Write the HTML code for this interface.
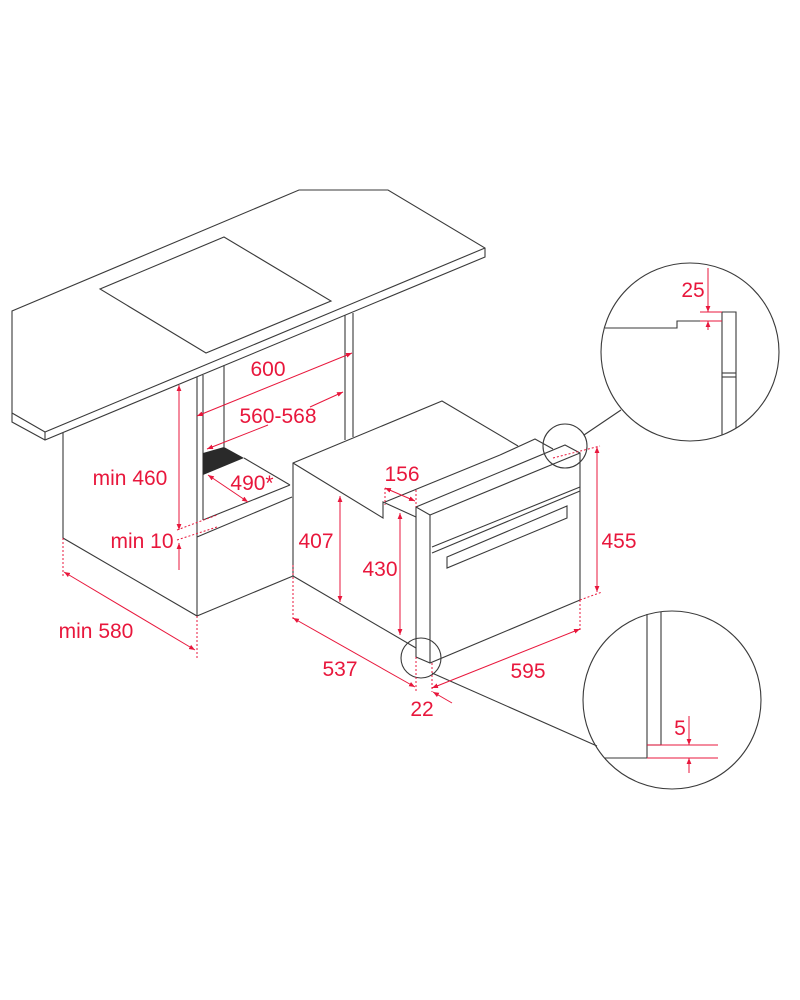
<!DOCTYPE html>
<html><head><meta charset="utf-8"><style>
html,body{margin:0;padding:0;background:#fff;}
svg{display:block;}
text{font-family:"Liberation Sans",sans-serif;font-size:21px;fill:#e8173c;text-anchor:middle;}
.k{stroke:#3a3a3a;stroke-width:1.1;fill:none;}
.r{stroke:#e8173c;stroke-width:1;fill:none;}
.d{stroke:#e8173c;stroke-width:1;fill:none;stroke-dasharray:2,2;}
</style></head><body>
<svg width="800" height="1000" viewBox="0 0 800 1000" xmlns="http://www.w3.org/2000/svg">
<defs>
<marker id="a" viewBox="0 0 10 10" refX="10" refY="5" markerWidth="6" markerHeight="6" orient="auto-start-reverse"><path d="M0,1 L10,5 L0,9 z" fill="#e8173c"/></marker>
</defs>
<polyline class="k" points="12,413 12,311 299,190 388,190 485,248 485,257 45,440 12,422 12,413 45,432 485,248"/>
<line class="k" x1="45" y1="432" x2="45" y2="440"/>
<polygon class="k" points="100,289 224,237 331,301 206,353"/>
<polyline class="k" points="63,433 63,538 197,616 197,377"/>
<line class="k" x1="203" y1="375" x2="203" y2="520"/>
<line class="k" x1="224" y1="365" x2="224" y2="447"/>
<line class="k" x1="345" y1="315" x2="345" y2="440"/>
<line class="k" x1="353" y1="313" x2="353" y2="437"/>
<line class="k" x1="203" y1="520" x2="290" y2="485"/>
<line class="k" x1="197" y1="537" x2="292" y2="497"/>
<line class="k" x1="197" y1="616" x2="293" y2="576"/>
<polygon points="203,453 224,447 244,458 203,475" fill="#2a2a2a"/>
<line class="k" x1="244" y1="458" x2="290" y2="485"/>
<polyline class="k" points="293,576 293,463 442,401 518,446"/>
<polyline class="k" points="293,463 383,518 383,502 416,517"/>
<line class="k" x1="385" y1="502" x2="500" y2="455"/>
<polyline class="k" points="500,455 535,439 553,449"/>
<line class="k" x1="293" y1="576" x2="416" y2="648"/>
<polyline class="k" points="416,657 416,507 565,445 580,453 580,600 430,663 416,657"/>
<polyline class="k" points="416,507 430,515 580,453"/>
<line class="k" x1="430" y1="515" x2="430" y2="663"/>
<line class="k" x1="432" y1="547" x2="580" y2="487"/>
<line class="k" x1="432" y1="553" x2="580" y2="491"/>
<polygon class="k" points="447,557 567,506 567,518 447,568"/>
<circle class="k" cx="565" cy="446" r="22"/>
<circle class="k" cx="421" cy="658" r="20"/>
<line class="k" x1="584" y1="435" x2="621" y2="410"/>
<line class="k" x1="432" y1="673" x2="597" y2="746"/>
<circle class="k" cx="690" cy="352" r="89"/>
<polyline class="k" points="605,328 677,328 677,321 722,321"/>
<polyline class="k" points="722,435 722,312 736,312 736,428"/>
<line class="k" x1="722" y1="373" x2="736" y2="373"/>
<line class="k" x1="722" y1="377" x2="736" y2="377"/>
<line class="r" x1="700" y1="312" x2="722" y2="312"/>
<line class="r" x1="700" y1="321" x2="722" y2="321"/>
<line class="r" x1="708" y1="268" x2="708" y2="312" marker-end="url(#a)"/>
<line class="r" x1="708" y1="330" x2="708" y2="321" marker-end="url(#a)"/>
<text x="693" y="297">25</text>
<circle class="k" cx="672" cy="700" r="89"/>
<line class="k" x1="647" y1="614" x2="647" y2="758"/>
<line class="k" x1="661" y1="612" x2="661" y2="745"/>
<line class="k" x1="647" y1="745" x2="661" y2="745"/>
<line class="k" x1="605" y1="758" x2="647" y2="758"/>
<line class="r" x1="647" y1="745" x2="718" y2="745"/>
<line class="r" x1="647" y1="758" x2="718" y2="758"/>
<line class="r" x1="689" y1="716" x2="689" y2="745" marker-end="url(#a)"/>
<line class="r" x1="689" y1="773" x2="689" y2="758" marker-end="url(#a)"/>
<text x="680" y="735">5</text>
<line class="r" x1="197" y1="416" x2="352" y2="353" marker-start="url(#a)" marker-end="url(#a)"/>
<text x="268" y="376">600</text>
<line class="r" x1="207" y1="449" x2="268" y2="425" marker-start="url(#a)"/>
<line class="r" x1="310" y1="407" x2="343" y2="392" marker-end="url(#a)"/>
<text x="278" y="423">560-568</text>
<line class="r" x1="179" y1="385" x2="179" y2="530" marker-start="url(#a)" marker-end="url(#a)"/>
<text x="130" y="485">min 460</text>
<line class="r" x1="179" y1="570" x2="179" y2="543" marker-end="url(#a)"/>
<line class="d" x1="177" y1="530" x2="217" y2="515"/>
<line class="d" x1="177" y1="540" x2="217" y2="527"/>
<text x="142" y="548">min 10</text>
<line class="r" x1="208" y1="475" x2="248" y2="502" marker-start="url(#a)" marker-end="url(#a)"/>
<text x="252" y="490">490*</text>
<line class="d" x1="63" y1="538" x2="63" y2="577"/>
<line class="d" x1="197" y1="616" x2="197" y2="660"/>
<line class="r" x1="64" y1="572" x2="195" y2="650" marker-start="url(#a)" marker-end="url(#a)"/>
<text x="96" y="638">min 580</text>
<line class="r" x1="340" y1="496" x2="340" y2="602" marker-start="url(#a)" marker-end="url(#a)"/>
<text x="316" y="548">407</text>
<line class="r" x1="400" y1="513" x2="400" y2="635" marker-start="url(#a)" marker-end="url(#a)"/>
<text x="380" y="576">430</text>
<line class="d" x1="385" y1="488" x2="385" y2="505"/>
<line class="d" x1="416" y1="490" x2="416" y2="507"/>
<line class="r" x1="385" y1="488" x2="415" y2="501" marker-start="url(#a)" marker-end="url(#a)"/>
<text x="402" y="481">156</text>
<line class="d" x1="553" y1="458" x2="600" y2="446"/>
<line class="d" x1="580" y1="600" x2="602" y2="592"/>
<line class="r" x1="597" y1="447" x2="597" y2="592" marker-start="url(#a)" marker-end="url(#a)"/>
<text x="619" y="548">455</text>
<line class="d" x1="293" y1="565" x2="293" y2="620"/>
<line class="r" x1="293" y1="618" x2="415" y2="687" marker-start="url(#a)" marker-end="url(#a)"/>
<text x="340" y="676">537</text>
<line class="d" x1="580" y1="600" x2="580" y2="632"/>
<line class="r" x1="432" y1="688" x2="580" y2="629" marker-start="url(#a)" marker-end="url(#a)"/>
<text x="528" y="678">595</text>
<line class="d" x1="416" y1="657" x2="416" y2="692"/>
<line class="d" x1="432" y1="663" x2="432" y2="692"/>
<line class="r" x1="452" y1="703" x2="433" y2="692" marker-end="url(#a)"/>
<text x="422" y="716">22</text>
</svg>
</body></html>
